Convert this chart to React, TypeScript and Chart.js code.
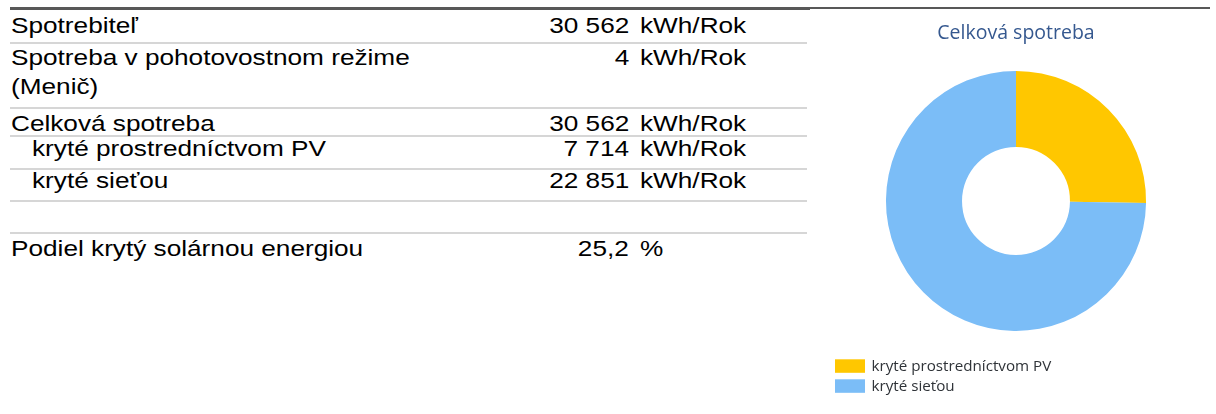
import React, { useEffect, useRef } from "react";
import { Chart, registerables } from "chart.js";

Chart.register(...registerables);

// ---- data ----
const tableLabels = [
  "Spotrebiteľ",
  "Spotreba v pohotovostnom režime (Menič)",
  "Celková spotreba",
  "kryté prostredníctvom PV",
  "kryté sieťou",
  "",
  "Podiel krytý solárnou energiou",
];
const tableValues = ["30 562", "4", "30 562", "7 714", "22 851", "", "25,2"];
const tableUnits = ["kWh/Rok", "kWh/Rok", "kWh/Rok", "kWh/Rok", "kWh/Rok", "", "%"];
const tableIndented = [false, false, false, true, true, false, false];

const chartTitle = "Celková spotreba";
const segmentLabels = ["kryté prostredníctvom PV", "kryté sieťou"];
const segmentValues = [7714, 22851];
const segmentColors = ["#FFC700", "#7BBDF7"];

// ---- layout (positions / styles) ----
const rowBaselines = [33.3, 65, 131, 156.5, 188.5, 0, 256];
const separatorTops = [42, 107, 135, 168, 200, 232];
const TEXT_SCALE = 1.19;
const FONT_PX = 22;
const LINE_PX = 29;
const BASELINE_OFFSET = (LINE_PX - 1.117 * FONT_PX) / 2 + 0.905 * FONT_PX;

const textBase: React.CSSProperties = {
  position: "absolute",
  fontFamily: '"Liberation Sans", Arial, sans-serif',
  fontSize: FONT_PX,
  lineHeight: LINE_PX + "px",
  color: "#000",
  margin: 0,
};

function DoughnutChart() {
  const ref = useRef<HTMLCanvasElement>(null);
  useEffect(() => {
    if (!ref.current) return;
    const legendPlugin = {
      id: "stackedLegend",
      afterDraw(chart: any) {
        const ctx = chart.ctx as CanvasRenderingContext2D;
        const ds = chart.data.datasets[0];
        const labels = chart.data.labels as string[];
        ctx.save();
        ctx.font = '15.2px "Open Sans"';
        ctx.textBaseline = "middle";
        ctx.textAlign = "left";
        labels.forEach((l, i) => {
          const y = 349.3 + i * 20;
          ctx.fillStyle = ds.backgroundColor[i];
          ctx.fillRect(19, y, 30, 13.5);
          ctx.fillStyle = "#2f3338";
          ctx.fillText(l, 55.5, y + 6.9);
        });
        ctx.restore();
      },
    };
    const chart = new Chart(ref.current, {
      type: "doughnut",
      data: {
        labels: segmentLabels,
        datasets: [
          {
            data: segmentValues,
            backgroundColor: segmentColors,
            borderWidth: 0,
            hoverOffset: 0,
          },
        ],
      },
      options: {
        animation: false,
        responsive: false,
        maintainAspectRatio: false,
        cutout: "41.5%",
        layout: { padding: { bottom: 79 } },
        plugins: {
          legend: { display: false },
          tooltip: { enabled: false },
          title: {
            display: true,
            text: chartTitle,
            color: "#35588f",
            font: { family: '"Open Sans"', size: 19.5, weight: "normal" },
            padding: { top: 12, bottom: 25.5 },
          },
        },
      },
      plugins: [legendPlugin],
    } as any);
    return () => chart.destroy();
  }, []);
  return (
    <canvas
      ref={ref}
      width={400}
      height={400}
      style={{ position: "absolute", left: 816, top: 10, width: 400, height: 400 }}
    />
  );
}

export default function App() {
  return (
    <div
      style={{
        position: "absolute",
        left: 0,
        top: 0,
        width: 1216,
        height: 414,
        overflow: "hidden",
        background: "#fff",
      }}
    >
      {/* top borders */}
      <div style={{ position: "absolute", left: 10, top: 7, width: 800, height: 3, background: "#585858" }} />
      <div style={{ position: "absolute", left: 810, top: 7, width: 400, height: 2, background: "#585858" }} />
      {/* row separators */}
      {separatorTops.map((t, i) => (
        <div
          key={"s" + i}
          style={{ position: "absolute", left: 10, top: t, width: 797, height: 2, background: "#d6d6d6" }}
        />
      ))}
      {tableLabels.map((label, i) => {
        if (!label) return null;
        const top = rowBaselines[i] - BASELINE_OFFSET;
        return (
          <React.Fragment key={"r" + i}>
            <div
              style={{
                ...textBase,
                left: tableIndented[i] ? 31.5 : 10.5,
                top,
                width: 360,
                transformOrigin: "left top",
                transform: `scaleX(${TEXT_SCALE})`,
              }}
            >
              {label}
            </div>
            <div
              style={{
                ...textBase,
                right: 1216 - 629,
                top,
                whiteSpace: "nowrap",
                textAlign: "right",
                transformOrigin: "right top",
                transform: `scaleX(${TEXT_SCALE})`,
              }}
            >
              {tableValues[i]}
            </div>
            <div
              style={{
                ...textBase,
                left: 640,
                top,
                whiteSpace: "nowrap",
                transformOrigin: "left top",
                transform: `scaleX(${TEXT_SCALE})`,
              }}
            >
              {tableUnits[i]}
            </div>
          </React.Fragment>
        );
      })}
      <DoughnutChart />
    </div>
  );
}
